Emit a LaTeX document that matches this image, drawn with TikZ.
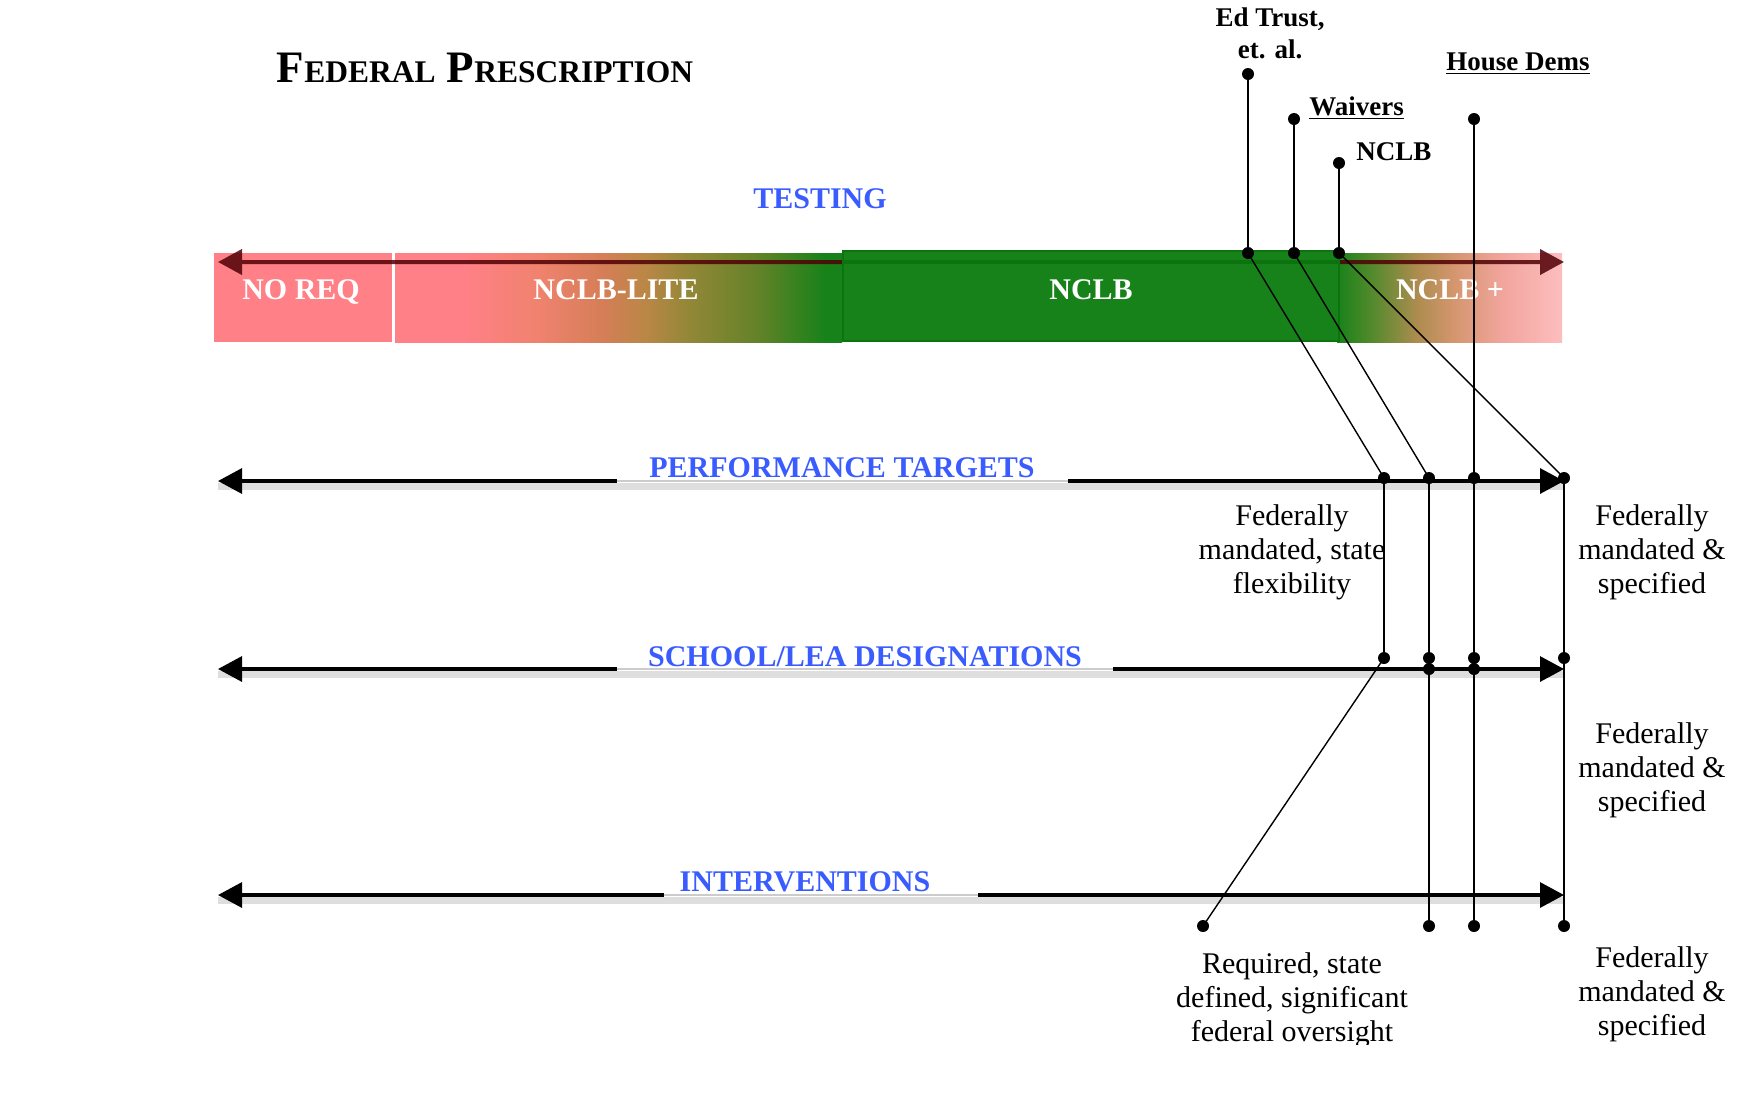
\documentclass[tikz,border=0pt]{standalone}
\usepackage{fontspec}
\setmainfont{Liberation Serif}
\usetikzlibrary{arrows.meta}

\definecolor{pinkA}{RGB}{255,128,134}
\definecolor{salmonA}{RGB}{240,130,110}
\definecolor{orangeA}{RGB}{212,126,86}
\definecolor{tanA}{RGB}{186,135,70}
\definecolor{oliveA}{RGB}{145,135,55}
\definecolor{olgreenA}{RGB}{100,130,40}
\definecolor{greenA}{RGB}{24,130,26}
\definecolor{greenB}{RGB}{12,116,14}
\definecolor{olgreenB}{RGB}{85,138,45}
\definecolor{tanB}{RGB}{175,140,80}
\definecolor{orangeB}{RGB}{212,150,110}
\definecolor{pinkB}{RGB}{242,165,158}
\definecolor{lpinkA}{RGB}{252,190,190}
\definecolor{maroonD}{RGB}{80,0,5}
\definecolor{blueA}{RGB}{58,92,255}

\pgfdeclarehorizontalshading{liteshade}{100bp}{color(0bp)=(pinkA); color(33bp)=(pinkA); color(41bp)=(salmonA); color(48.5bp)=(orangeA); color(53bp)=(tanA); color(58bp)=(oliveA); color(65.5bp)=(olgreenA); color(73bp)=(greenA); color(100bp)=(greenA)}
\pgfdeclarehorizontalshading{plusshade}{100bp}{color(0bp)=(greenA); color(25bp)=(greenA); color(33bp)=(olgreenB); color(43bp)=(tanB); color(51bp)=(orangeB); color(62bp)=(pinkB); color(75bp)=(lpinkA); color(100bp)=(lpinkA)}

\begin{document}
\begin{tikzpicture}[x=0.5pt,y=-0.5pt,
  dot/.style={circle, fill=black, inner sep=0pt, minimum size=6pt},
  conn/.style={draw=black, line width=1pt},
  diag/.style={draw=black, line width=0.7pt},
  tipA/.style={-{Triangle[length=12pt,width=12.5pt]}},
  axisline/.style={line width=1.6pt, draw=black, tipA},
  shadowline/.style={line width=3.5pt, draw=black!13},
  gapline/.style={line width=1.4pt, draw=black!20},
  bodytext/.style={font=\fontsize{15}{17}\selectfont, align=center, inner sep=0pt},
  toplabel/.style={font=\bfseries\fontsize{13.5}{16}\selectfont, inner sep=0pt},
  axislabel/.style={font=\bfseries\fontsize{15}{18}\selectfont, text=blueA, inner sep=0pt, anchor=base},
  barlabel/.style={font=\bfseries\fontsize{15}{18}\selectfont, text=white, inner sep=0pt, anchor=base},
  barArrow/.style={line width=2pt, draw=maroonD,
    {Triangle[length=12pt,width=12.5pt]}-{Triangle[length=12pt,width=12.5pt]}}
]
\useasboundingbox[fill=white] (0,0) rectangle (1754,1094);

% ---------- title ----------
\node[inner sep=0pt, font=\bfseries] (title) at (485,68)
  {\fontsize{22.5}{27}\selectfont F\fontsize{15.75}{19}\selectfont EDERAL\fontsize{22.5}{27}\selectfont{} P\fontsize{15.75}{19}\selectfont RESCRIPTION};

% ---------- testing bar ----------
\node[axislabel] (testing) at (820,208) {TESTING};
\fill[pinkA] (214,253) rectangle (392,342);
\shade[shading=liteshade] (395,253) rectangle (842,342);
\shade[shading=plusshade] (1337,253) rectangle (1562,342);
\coordinate (bL) at (218,262);
\coordinate (bR) at (1564,262);
\begin{scope}[transparency group, opacity=0.85]
\draw[barArrow] (bL) -- (bR);
\end{scope}
\filldraw[fill=greenA, draw=greenB, line width=1pt] (843,251) rectangle (1339,341);
\draw[greenB, line width=2pt] (843,262) -- (1339,262);
\node[barlabel] (noreq) at (301,299) {NO REQ};
\node[barlabel] (lite) at (616,299) {NCLB-LITE};
\node[barlabel] (nclbbar) at (1091,299) {NCLB};
\node[barlabel] (plus) at (1450,299) {NCLB +};

% ---------- top labels ----------
\node[toplabel, align=center] (edtrust) at (1270,33) {Ed Trust,\\et. al.};
\node[toplabel, anchor=base west] (waivers) at (1309,115) {\underline{Waivers}};
\node[toplabel, anchor=base west] (nclbl) at (1356,160) {NCLB};
\node[toplabel, anchor=base west] (house) at (1446,70) {\underline{House Dems}};

% ---------- axes ----------
% performance targets
\coordinate (pL) at (218,481); \coordinate (pR) at (1564,481);
\coordinate (pGl) at (617,481); \coordinate (pGr) at (1068,481);
\draw[shadowline] ([yshift=-2.5pt]pL) -- ([yshift=-2.5pt]pR);
\draw[gapline] (pGl) -- (pGr);
\draw[axisline] (pGl) -- (pL);
\draw[axisline] (pGr) -- (pR);
\node[axislabel] (perf) at (842,477) {PERFORMANCE TARGETS};

% school / LEA designations
\coordinate (sL) at (218,669); \coordinate (sR) at (1564,669);
\coordinate (sGl) at (617,669); \coordinate (sGr) at (1113,669);
\draw[shadowline] ([yshift=-2.5pt]sL) -- ([yshift=-2.5pt]sR);
\draw[gapline] (sGl) -- (sGr);
\draw[axisline] (sGl) -- (sL);
\draw[axisline] (sGr) -- (sR);
\node[axislabel] (school) at (865,666) {SCHOOL/LEA DESIGNATIONS};

% interventions
\coordinate (iL) at (218,895); \coordinate (iR) at (1564,895);
\coordinate (iGl) at (664,895); \coordinate (iGr) at (978,895);
\draw[shadowline] ([yshift=-2.5pt]iL) -- ([yshift=-2.5pt]iR);
\draw[gapline] (iGl) -- (iGr);
\draw[axisline] (iGl) -- (iL);
\draw[axisline] (iGr) -- (iR);
\node[axislabel] (interv) at (805,891) {INTERVENTIONS};

% ---------- descriptive texts ----------
\node[bodytext] (fmsf) at (1292,552) {Federally\\mandated, state\\flexibility};
\node[bodytext] (fms1) at (1652,552) {Federally\\mandated \&\\specified};
\node[bodytext] (fms2) at (1652,770) {Federally\\mandated \&\\specified};
\node[bodytext] (fms3) at (1652,994) {Federally\\mandated \&\\specified};
\begin{scope}
\clip (1080,940) rectangle (1520,1044);
\node[bodytext] (req) at (1292,1000) {Required, state\\defined, significant\\federal oversight};
\end{scope}

% ---------- dots ----------
\node[dot] (et) at (1248,74) {};
\node[dot] (wv) at (1294,119) {};
\node[dot] (nc) at (1339,163) {};
\node[dot] (hd) at (1474,119) {};
\node[dot] (b1) at (1248,253) {};
\node[dot] (b2) at (1294,253) {};
\node[dot] (b3) at (1339,253) {};
\node[dot] (p1) at (1384,478) {};
\node[dot] (p2) at (1429,478) {};
\node[dot] (p3) at (1474,478) {};
\node[dot] (p4) at (1564,478) {};
\node[dot] (s1) at (1384,658) {};
\node[dot] (s2) at (1429,658) {};
\node[dot] (s2b) at (1429,669) {};
\node[dot] (s3) at (1474,658) {};
\node[dot] (s3b) at (1474,669) {};
\node[dot] (s4) at (1564,658) {};
\node[dot] (i0) at (1203,926) {};
\node[dot] (i2) at (1429,926) {};
\node[dot] (i3) at (1474,926) {};
\node[dot] (i4) at (1564,926) {};

% ---------- connectors ----------
\draw[conn] (et.center) -- (b1.center);
\draw[conn] (wv.center) -- (b2.center);
\draw[conn] (nc.center) -- (b3.center);
\draw[conn] (hd.center) -- (i3.center);
\draw[diag] (b1.center) -- (p1.center);
\draw[diag] (b2.center) -- (p2.center);
\draw[diag] (b3.center) -- (p4.center);
\draw[conn] (p1.center) -- (s1.center);
\draw[conn] (p2.center) -- (i2.center);
\draw[conn] (p4.center) -- (i4.center);
\draw[diag] (s1.center) -- (i0.center);
\end{tikzpicture}
\end{document}
